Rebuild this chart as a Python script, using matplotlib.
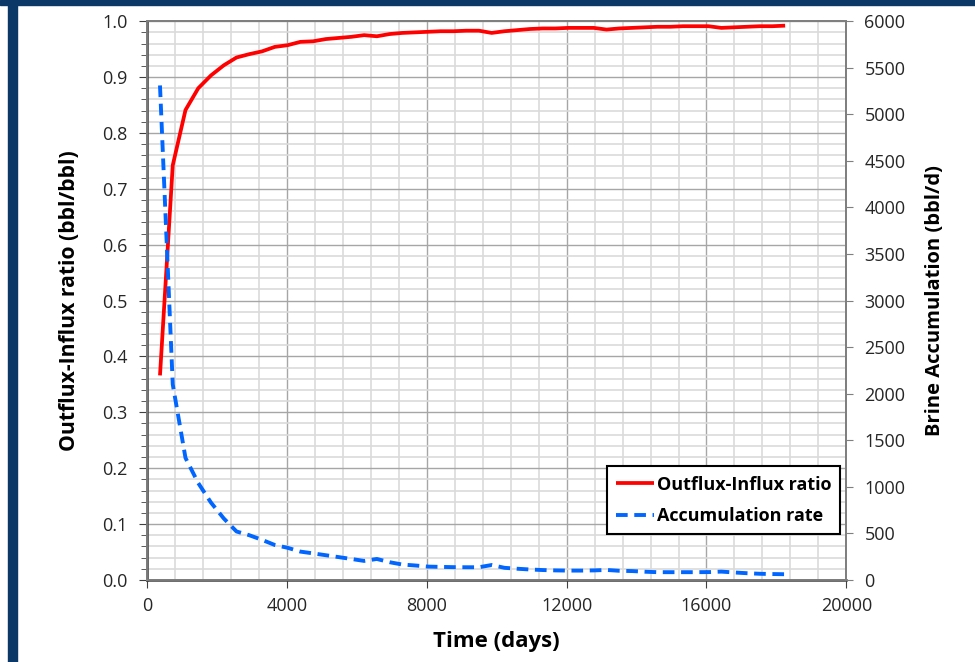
import matplotlib.pyplot as plt
from matplotlib.patches import Rectangle
from matplotlib.ticker import MultipleLocator

plt.rcParams['font.family'] = ['Open Sans', 'DejaVu Sans']

days = [365, 730, 1095, 1460, 1825, 2190, 2555, 2920, 3285, 3650,
        4015, 4380, 4745, 5110, 5475, 5840, 6205, 6570, 6935, 7300,
        7665, 8030, 8395, 8760, 9125, 9490, 9855, 10220, 10585, 10950,
        11315, 11680, 12045, 12410, 12775, 13140, 13505, 13870, 14235, 14600,
        14965, 15330, 15695, 16060, 16425, 16790, 17155, 17520, 17885, 18250]

ratio = [0.366, 0.742, 0.841, 0.880, 0.903, 0.921, 0.935, 0.941, 0.946, 0.954,
         0.957, 0.963, 0.964, 0.968, 0.970, 0.972, 0.975, 0.973, 0.977, 0.979,
         0.980, 0.981, 0.982, 0.982, 0.983, 0.983, 0.979, 0.982, 0.984, 0.986,
         0.987, 0.987, 0.988, 0.988, 0.988, 0.985, 0.987, 0.988, 0.989, 0.990,
         0.990, 0.991, 0.991, 0.991, 0.988, 0.989, 0.990, 0.991, 0.991, 0.992]

accum = [5310, 2100, 1310, 1040, 830, 660, 520, 480, 430, 375,
         345, 304, 285, 265, 245, 225, 204, 225, 190, 165,
         155, 143, 140, 137, 136, 136, 160, 130, 120, 112,
         106, 102, 100, 100, 102, 107, 98, 95, 88, 83,
         83, 83, 83, 84, 89, 80, 72, 66, 63, 61]

fig = plt.figure(figsize=(9.75, 6.62), dpi=100)
ax = fig.add_axes([0.151, 0.124, 0.717, 0.844])
ax2 = ax.twinx()

# dark blue frame strips of the slide
navy = '#0b3866'
fig.patches.append(Rectangle((0, 1 - 5 / 662), 1, 5 / 662, transform=fig.transFigure, color=navy, zorder=0))
fig.patches.append(Rectangle((8 / 975, 0), 9 / 975, 1, transform=fig.transFigure, color=navy, zorder=0))

l1, = ax.plot(days, ratio, color='#ff0000', lw=2.7, solid_capstyle='butt', zorder=3)
l2, = ax2.plot(days, accum, color='#0066ff', lw=2.8, dashes=(3.0, 1.7), zorder=3)

ax.set_xlim(0, 20000)
ax.set_ylim(0, 1.0)
ax2.set_ylim(0, 6000)

ax.xaxis.set_major_locator(MultipleLocator(4000))
ax.xaxis.set_minor_locator(MultipleLocator(800))
ax.yaxis.set_major_locator(MultipleLocator(0.1))
ax.yaxis.set_minor_locator(MultipleLocator(0.02))
ax2.yaxis.set_major_locator(MultipleLocator(500))

ax.yaxis.set_major_formatter(plt.FormatStrFormatter('%.1f'))

ax.grid(which='major', color='#a6a6a6', lw=1.0)
ax.grid(which='minor', color='#dadada', lw=1.2)
ax.set_axisbelow(True)

for a in (ax, ax2):
    for s in a.spines.values():
        s.set_color('#7f7f7f')
        s.set_linewidth(1.3)
ax.spines['left'].set_color('#404040')
ax.spines['bottom'].set_color('#404040')
ax.spines['left'].set_linewidth(1.8)
ax.spines['bottom'].set_linewidth(1.8)

ax.tick_params(axis='x', which='major', direction='out', length=6, color='#404040', labelsize=13, labelcolor='#262626', pad=6)
ax.tick_params(axis='x', which='minor', length=0)
ax.tick_params(axis='y', which='major', direction='out', length=6, color='#404040', labelsize=13, labelcolor='#262626', pad=8)
ax.tick_params(axis='y', which='minor', direction='out', length=4, color='#404040')
ax2.tick_params(axis='y', direction='out', length=5, color='#7f7f7f', labelsize=13, labelcolor='#262626', pad=8)

ax.set_xlabel('Time (days)', fontsize=16, fontweight='bold', labelpad=12)
ax.set_ylabel('Outflux-Influx ratio (bbl/bbl)', fontsize=15.2, fontweight='bold', labelpad=16)
ax2.set_ylabel('Brine Accumulation (bbl/d)', fontsize=14.5, fontweight='bold', labelpad=14)

leg = ax2.legend([l1, l2], ['Outflux-Influx ratio', 'Accumulation rate'],
                 loc='lower right', bbox_to_anchor=(0.9914, 0.082),
                 fancybox=False, framealpha=1, edgecolor='black',
                 prop={'weight': 'bold', 'size': 13}, handlelength=2.1,
                 handletextpad=0.15, borderpad=0.5, labelspacing=0.75, borderaxespad=0)
leg.get_frame().set_linewidth(1.5)

fig.savefig('out.png', dpi=100)
